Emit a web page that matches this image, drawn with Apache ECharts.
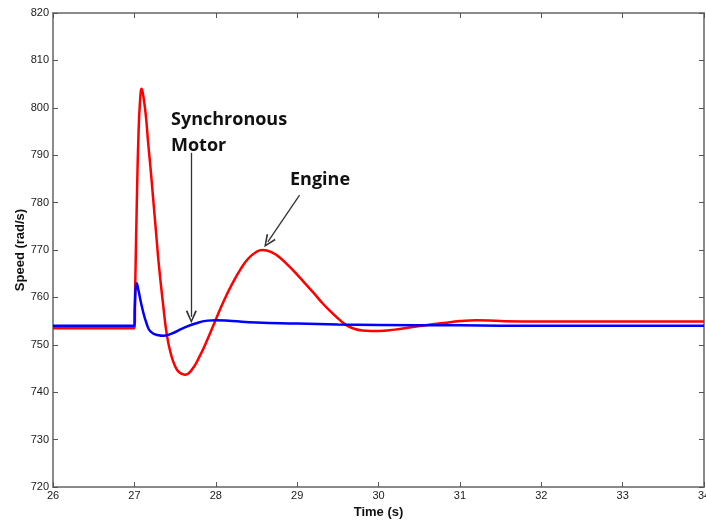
<!DOCTYPE html>
<html>
<head>
<meta charset="utf-8">
<script src="https://cdn.jsdelivr.net/npm/echarts@6/dist/echarts.min.js"></script>
<style>
  html, body { margin: 0; padding: 0; background: #fff; }
  #speed_chart { width: 706px; height: 520px; }
</style>
</head>
<body>
<div id="speed_chart"></div>
<script>
// engine speed (red)
const engineTime = [26.0, 27.0, 27.01, 27.03, 27.05, 27.07, 27.09, 27.11, 27.14, 27.17, 27.2, 27.23, 27.27, 27.3, 27.35, 27.4, 27.45, 27.5, 27.55, 27.62, 27.7, 27.8, 27.9, 28.0, 28.1, 28.2, 28.3, 28.4, 28.5, 28.57, 28.7, 28.8, 28.9, 29.0, 29.1, 29.2, 29.3, 29.4, 29.5, 29.6, 29.7, 29.8, 29.9, 30.0, 30.2, 30.4, 30.6, 30.8, 31.0, 31.2, 31.5, 32.0, 34.0];
const engineSpeed = [753.5, 753.5, 762, 780, 794, 801.5, 804, 802.5, 798.5, 792.5, 787, 781, 773, 767, 759, 752, 748, 745.5, 744.2, 743.7, 744.6, 747.5, 751.2, 755.3, 759.3, 762.8, 765.8, 768.2, 769.6, 770, 769.4, 768.2, 766.6, 764.8, 762.9, 761.0, 759.0, 757.2, 755.6, 754.2, 753.4, 753.0, 752.9, 752.9, 753.2, 753.7, 754.2, 754.6, 755.0, 755.2, 755.0, 754.9, 754.9];

// synchronous motor speed (blue)
const motorTime = [26.0, 27.0, 27.005, 27.03, 27.05, 27.1, 27.15, 27.2, 27.3, 27.35, 27.45, 27.6, 27.75, 27.9, 28.0, 28.2, 28.5, 29.0, 29.5, 30.0, 31.0, 32.0, 34.0];
const motorSpeed = [754, 754, 758, 763, 761.5, 757.5, 754.5, 752.8, 752, 751.9, 752.3, 753.5, 754.5, 755.1, 755.2, 755.0, 754.7, 754.5, 754.3, 754.2, 754.1, 754.0, 754.0];

const xTicks = [26, 27, 28, 29, 30, 31, 32, 33, 34];
const yTicks = [720, 730, 740, 750, 760, 770, 780, 790, 800, 810, 820];

const motorArrow = [[27.7, 790.5], [27.7, 755.9]];
const engineArrow = [[29.03, 781.6], [28.64, 771.7]];

const pairs = (xs, ys) => xs.map((x, i) => [x, ys[i]]);

const chart = echarts.init(document.getElementById("speed_chart"));

const axisGrey = { color: "#8a8a8a", width: 2 };
const tickStyle = { inside: true, length: 5, lineStyle: { color: "#555", width: 1 } };
const labelStyle = { fontFamily: "Liberation Sans", fontSize: 11, color: "#1a1a1a" };
const nameStyle = { fontFamily: "Liberation Sans", fontWeight: "bold", fontSize: 13, color: "#111" };
const arrowHead = "path://M0,10 L5,0 L10,10 L8.6,10.7 L5,3 L1.4,10.7 Z";

const option = {
  animation: false,
  backgroundColor: "#fff",
  grid: { left: 53, right: 2, top: 13, bottom: 33, outerBoundsMode: "none", containLabel: false },
  xAxis: [
    {
      type: "value",
      min: xTicks[0],
      max: xTicks[xTicks.length - 1],
      interval: 1,
      name: "Time (s)",
      nameLocation: "middle",
      nameGap: 18,
      nameTextStyle: nameStyle,
      axisLine: { lineStyle: axisGrey },
      axisTick: tickStyle,
      axisLabel: { ...labelStyle, margin: 3, showMaxLabel: true, hideOverlap: false },
      splitLine: { show: false },
    },
    {
      type: "value",
      position: "top",
      min: xTicks[0],
      max: xTicks[xTicks.length - 1],
      interval: 1,
      axisLine: { show: true, lineStyle: axisGrey },
      axisTick: tickStyle,
      axisLabel: { show: false },
      splitLine: { show: false },
    },
  ],
  yAxis: [
    {
      type: "value",
      min: yTicks[0],
      max: yTicks[yTicks.length - 1],
      interval: 10,
      axisLine: { show: true, lineStyle: axisGrey },
      axisTick: { show: true, ...tickStyle },
      axisLabel: { ...labelStyle, margin: 4 },
      splitLine: { show: false },
    },
    {
      type: "value",
      position: "right",
      min: yTicks[0],
      max: yTicks[yTicks.length - 1],
      interval: 10,
      axisLine: { show: true, lineStyle: axisGrey },
      axisTick: { show: true, ...tickStyle },
      axisLabel: { show: false },
      splitLine: { show: false },
    },
  ],
  series: [
    {
      name: "Engine",
      type: "line",
      data: pairs(engineTime, engineSpeed),
      smooth: 0.5,
      showSymbol: false,
      lineStyle: { color: "#ff0000", width: 2.5 },
      z: 2,
      markLine: {
        silent: true,
        symbol: ["none", arrowHead],
        symbolSize: [11, 13],
        label: { show: false },
        lineStyle: { color: "#333", width: 1.3, type: "solid" },
        data: [
          [{ coord: engineArrow[0] }, { coord: engineArrow[1] }],
          [{ coord: motorArrow[0] }, { coord: motorArrow[1] }],
        ],
      },
    },
    {
      name: "Synchronous Motor",
      type: "line",
      data: pairs(motorTime, motorSpeed),
      smooth: 0.5,
      showSymbol: false,
      lineStyle: { color: "#0000ff", width: 2.5 },
      z: 3,
    },
  ],
  graphic: [
    {
      // y axis title, placed by hand so it sits close to the tick labels
      type: "text",
      x: 20,
      y: 250,
      rotation: Math.PI / 2,
      style: {
        text: "Speed (rad/s)",
        ...nameStyle,
        fill: "#111",
        align: "center",
        verticalAlign: "middle",
      },
    },
    {
      type: "text",
      left: 171,
      top: 107,
      style: {
        text: "Synchronous\nMotor",
        fontFamily: "Open Sans",
        fontWeight: "bold",
        fontSize: 18,
        lineHeight: 26,
        fill: "#111",
      },
    },
    {
      type: "text",
      left: 290,
      top: 171,
      style: {
        text: "Engine",
        fontFamily: "Open Sans",
        fontWeight: "bold",
        fontSize: 18,
        fill: "#111",
      },
    },
  ],
};

chart.setOption(option);
</script>
</body>
</html>
